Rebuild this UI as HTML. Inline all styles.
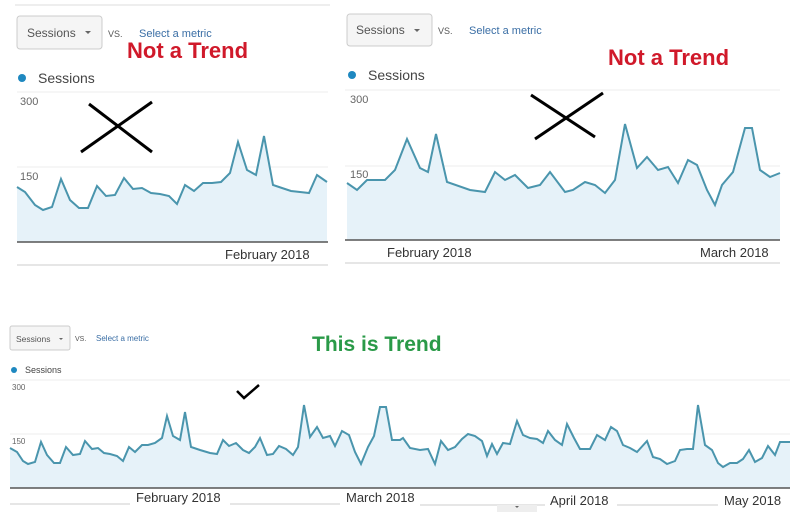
<!DOCTYPE html>
<html><head><style>
body{margin:0;background:#fff;width:792px;height:521px;overflow:hidden;font-family:"Liberation Sans",sans-serif}
</style></head><body>
<svg width="792" height="521" viewBox="0 0 792 521" xmlns="http://www.w3.org/2000/svg" font-family="Liberation Sans, sans-serif">
<!-- Panel 1 -->
<line x1="15" y1="5" x2="330" y2="5" stroke="#ddd"/>
<rect x="17" y="16" width="85" height="33" rx="3" fill="#f5f5f5" stroke="#ccc"/>
<text x="27" y="37" font-size="12" fill="#555">Sessions</text>
<path d="M85 31 l3 3 l3 -3z" fill="#666"/>
<text x="108" y="37" font-size="9" fill="#555">VS.</text>
<text x="139" y="37" font-size="11" fill="#3a6ea5">Select a metric</text>
<text x="127" y="58" font-size="22" font-weight="bold" fill="#d0192a">Not a Trend</text>
<circle cx="22" cy="78" r="4" fill="#1e88c0"/>
<text x="38" y="83" font-size="14" fill="#444">Sessions</text>
<line x1="17" y1="92" x2="328" y2="92" stroke="#eee"/>
<line x1="17" y1="167" x2="328" y2="167" stroke="#eee"/>
<text x="20" y="105" font-size="11" fill="#666">300</text>
<text x="20" y="180" font-size="11" fill="#666">150</text>
<path d="M17,187 L25,192 L35,205 L43,210 L52,207 L61,179 L70,200 L79,208 L88,208 L97,186 L106,196 L115,195 L124,178 L133,189 L142,188 L151,193 L160,194 L169,196 L177,204 L185,185 L194,191 L203,183 L212,183 L221,182 L230,173 L238,142 L247,170 L256,175 L264,136 L273,185 L282,188 L291,191 L300,192 L309,193 L317,175 L327,182 L327,242 L17,242Z" fill="#e6f2f9"/>
<path d="M17,187 L25,192 L35,205 L43,210 L52,207 L61,179 L70,200 L79,208 L88,208 L97,186 L106,196 L115,195 L124,178 L133,189 L142,188 L151,193 L160,194 L169,196 L177,204 L185,185 L194,191 L203,183 L212,183 L221,182 L230,173 L238,142 L247,170 L256,175 L264,136 L273,185 L282,188 L291,191 L300,192 L309,193 L317,175 L327,182" fill="none" stroke="#4a95ad" stroke-width="2"/>
<line x1="17" y1="242" x2="328" y2="242" stroke="#555" stroke-width="1.5"/>
<text x="225" y="259" font-size="13" fill="#333">February 2018</text>
<line x1="17" y1="265" x2="328" y2="265" stroke="#ccc"/>
<line x1="81" y1="152" x2="152" y2="102" stroke="#000" stroke-width="3"/>
<line x1="89" y1="104" x2="152" y2="152" stroke="#000" stroke-width="3"/>
<!-- Panel 2 -->
<rect x="347" y="14" width="85" height="32" rx="3" fill="#f5f5f5" stroke="#ccc"/>
<text x="356" y="34" font-size="12" fill="#555">Sessions</text>
<path d="M414 29 l3 3 l3 -3z" fill="#666"/>
<text x="438" y="34" font-size="9" fill="#555">VS.</text>
<text x="469" y="34" font-size="11" fill="#3a6ea5">Select a metric</text>
<text x="608" y="65" font-size="22" font-weight="bold" fill="#d0192a">Not a Trend</text>
<circle cx="352" cy="75" r="4" fill="#1e88c0"/>
<text x="368" y="80" font-size="14" fill="#444">Sessions</text>
<line x1="345" y1="90" x2="780" y2="90" stroke="#eee"/>
<line x1="345" y1="166" x2="780" y2="166" stroke="#eee"/>
<text x="350" y="103" font-size="11" fill="#666">300</text>
<text x="350" y="178" font-size="11" fill="#666">150</text>
<path d="M347,183 L357,190 L367,180 L385,180 L395,170 L407,139 L420,168 L428,172 L436,134 L447,182 L470,190 L485,192 L495,172 L505,180 L515,175 L528,188 L540,185 L550,172 L565,192 L573,190 L585,182 L595,185 L605,193 L615,180 L625,124 L637,168 L647,157 L658,170 L668,167 L678,183 L688,160 L697,165 L707,190 L715,205 L722,185 L733,172 L745,128 L752,128 L760,170 L770,177 L780,173 L780,240 L347,240Z" fill="#e6f2f9"/>
<path d="M347,183 L357,190 L367,180 L385,180 L395,170 L407,139 L420,168 L428,172 L436,134 L447,182 L470,190 L485,192 L495,172 L505,180 L515,175 L528,188 L540,185 L550,172 L565,192 L573,190 L585,182 L595,185 L605,193 L615,180 L625,124 L637,168 L647,157 L658,170 L668,167 L678,183 L688,160 L697,165 L707,190 L715,205 L722,185 L733,172 L745,128 L752,128 L760,170 L770,177 L780,173" fill="none" stroke="#4a95ad" stroke-width="2"/>
<line x1="345" y1="240" x2="780" y2="240" stroke="#555" stroke-width="1.5"/>
<text x="387" y="257" font-size="13" fill="#333">February 2018</text>
<text x="700" y="257" font-size="13" fill="#333">March 2018</text>
<line x1="345" y1="263" x2="780" y2="263" stroke="#ccc"/>
<line x1="531" y1="95" x2="595" y2="137" stroke="#000" stroke-width="3"/>
<line x1="535" y1="139" x2="603" y2="93" stroke="#000" stroke-width="3"/>
<!-- Panel 3 -->
<rect x="10" y="326" width="60" height="24" rx="2" fill="#f5f5f5" stroke="#ccc"/>
<text x="16" y="342" font-size="8.5" fill="#555">Sessions</text>
<path d="M59 338 l2 2 l2 -2z" fill="#666"/>
<text x="75" y="341" font-size="7" fill="#555">VS.</text>
<text x="96" y="341" font-size="8" fill="#3a6ea5">Select a metric</text>
<text x="312" y="351" font-size="21" font-weight="bold" fill="#2a9a48">This is Trend</text>
<circle cx="14" cy="370" r="3" fill="#1e88c0"/>
<text x="25" y="373" font-size="9" fill="#444">Sessions</text>
<line x1="10" y1="380" x2="790" y2="380" stroke="#eee"/>
<line x1="10" y1="434" x2="790" y2="434" stroke="#eee"/>
<text x="12" y="390" font-size="8" fill="#666">300</text>
<text x="12" y="444" font-size="8" fill="#666">150</text>
<path d="M10,448 L17,452 L23,461 L28,464 L35,462 L41,442 L47,455 L54,463 L60,463 L66,447 L73,455 L80,454 L85,441 L92,449 L98,448 L104,453 L110,454 L117,456 L123,461 L129,447 L135,452 L142,445 L148,445 L155,443 L162,438 L167,416 L173,436 L180,440 L185,412 L191,447 L200,450 L210,453 L217,454 L223,440 L229,446 L236,443 L243,450 L249,453 L255,447 L260,438 L267,455 L273,454 L279,446 L286,449 L293,455 L298,447 L304,405 L310,437 L317,427 L323,438 L330,436 L335,446 L342,431 L349,435 L355,452 L361,464 L368,447 L374,436 L380,407 L386,407 L392,440 L400,440 L403,438 L410,448 L420,450 L428,449 L435,464 L441,441 L448,450 L455,447 L462,439 L468,434 L475,436 L482,441 L487,456 L492,444 L497,454 L503,443 L510,444 L517,421 L523,435 L530,438 L537,439 L543,443 L548,431 L555,440 L562,445 L567,424 L574,438 L580,449 L590,449 L597,435 L605,440 L611,427 L617,431 L623,445 L630,448 L637,452 L647,441 L653,457 L660,459 L667,464 L675,461 L680,450 L687,449 L693,449 L698,405 L705,445 L712,450 L718,463 L723,467 L730,463 L737,463 L743,459 L749,450 L755,462 L762,458 L768,446 L775,455 L780,442 L790,442 L790,488 L10,488Z" fill="#e6f2f9"/>
<path d="M10,448 L17,452 L23,461 L28,464 L35,462 L41,442 L47,455 L54,463 L60,463 L66,447 L73,455 L80,454 L85,441 L92,449 L98,448 L104,453 L110,454 L117,456 L123,461 L129,447 L135,452 L142,445 L148,445 L155,443 L162,438 L167,416 L173,436 L180,440 L185,412 L191,447 L200,450 L210,453 L217,454 L223,440 L229,446 L236,443 L243,450 L249,453 L255,447 L260,438 L267,455 L273,454 L279,446 L286,449 L293,455 L298,447 L304,405 L310,437 L317,427 L323,438 L330,436 L335,446 L342,431 L349,435 L355,452 L361,464 L368,447 L374,436 L380,407 L386,407 L392,440 L400,440 L403,438 L410,448 L420,450 L428,449 L435,464 L441,441 L448,450 L455,447 L462,439 L468,434 L475,436 L482,441 L487,456 L492,444 L497,454 L503,443 L510,444 L517,421 L523,435 L530,438 L537,439 L543,443 L548,431 L555,440 L562,445 L567,424 L574,438 L580,449 L590,449 L597,435 L605,440 L611,427 L617,431 L623,445 L630,448 L637,452 L647,441 L653,457 L660,459 L667,464 L675,461 L680,450 L687,449 L693,449 L698,405 L705,445 L712,450 L718,463 L723,467 L730,463 L737,463 L743,459 L749,450 L755,462 L762,458 L768,446 L775,455 L780,442 L790,442" fill="none" stroke="#4a95ad" stroke-width="2"/>
<line x1="10" y1="488" x2="790" y2="488" stroke="#555" stroke-width="1.5"/>
<text x="136" y="502" font-size="13" fill="#333">February 2018</text>
<text x="346" y="502" font-size="13" fill="#333">March 2018</text>
<text x="550" y="505" font-size="13" fill="#333">April 2018</text>
<text x="724" y="505" font-size="13" fill="#333">May 2018</text>
<line x1="10" y1="504" x2="130" y2="504" stroke="#ccc"/>
<line x1="230" y1="504" x2="340" y2="504" stroke="#ccc"/>
<line x1="420" y1="505" x2="545" y2="505" stroke="#ccc"/>
<line x1="617" y1="505" x2="718" y2="505" stroke="#ccc"/>
<rect x="497" y="505" width="40" height="7" fill="#eee"/>
<path d="M515 506 l2 2 l2 -2z" fill="#666"/>
<path d="M237 391 L244 398 L259 385" fill="none" stroke="#000" stroke-width="2.5"/>
</svg>
</body></html>
